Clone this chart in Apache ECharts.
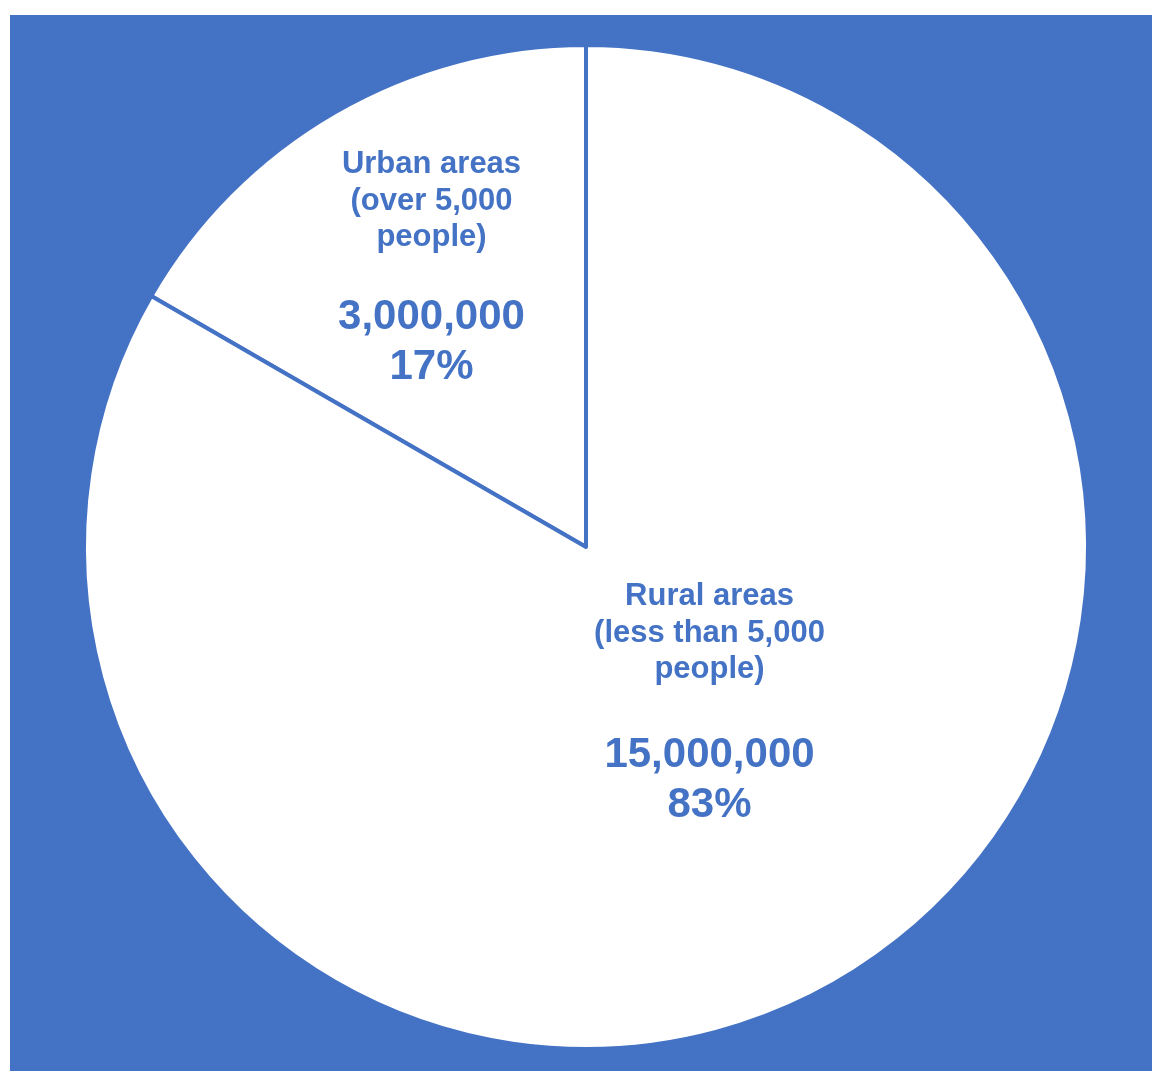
<!DOCTYPE html>
<html>
<head>
<meta charset="utf-8">
<title>Population by area type</title>
<script src="https://cdn.jsdelivr.net/npm/echarts@6/dist/echarts.min.js"></script>
<style>
  html, body { margin: 0; padding: 0; background: #ffffff; }
  #chart { position: absolute; left: 10px; top: 15px; width: 1142px; height: 1056px; background: #4472C4; }
</style>
</head>
<body>
<div id="chart"></div>
<script>
// Population split between area types
const categories = ['Urban areas\n(over 5,000\npeople)', 'Rural areas\n(less than 5,000\npeople)'];
const populations = [3000000, 15000000];
// label placement inside each slice (pixel offsets from the slice midpoint)
const labelOffsets = [[-27.5, -57.5], [-3.5, -62.5]];

const BLUE = '#4472C4';
const FONT = 'Liberation Sans, Arial, sans-serif';

function formatLabel(p) {
  const nameLines = p.name.split('\n').map(s => '{n|' + s + '}').join('\n');
  const value = p.value.toLocaleString('en-US');
  return nameLines + '\n{g' + p.dataIndex + '| }\n{v|' + value + '}\n{v|' + Math.round(p.percent) + '%}';
}

const chart = echarts.init(document.getElementById('chart'), null, { renderer: 'canvas' });
chart.setOption({
  animation: false,
  series: [{
    type: 'pie',
    center: [576, 532],
    radius: [0, 502],
    startAngle: 90,
    clockwise: false,
    percentPrecision: 2,
    emphasis: { disabled: true },
    itemStyle: { color: '#ffffff', borderColor: BLUE, borderWidth: 4 },
    labelLine: { show: false },
    label: {
      show: true,
      position: 'inside',
      formatter: formatLabel,
      align: 'center',
      rich: {
        n: { fontFamily: FONT, fontWeight: 'bold', fontSize: 31, lineHeight: 36.5, color: BLUE, align: 'center' },
        g0: { fontSize: 10, lineHeight: 37 },
        g1: { fontSize: 10, lineHeight: 43 },
        v: { fontFamily: FONT, fontWeight: 'bold', fontSize: 42, lineHeight: 50, color: BLUE, align: 'center' }
      }
    },
    data: categories.map((name, i) => ({
      name: name,
      value: populations[i],
      label: { offset: labelOffsets[i] }
    }))
  }]
});
</script>
</body>
</html>
